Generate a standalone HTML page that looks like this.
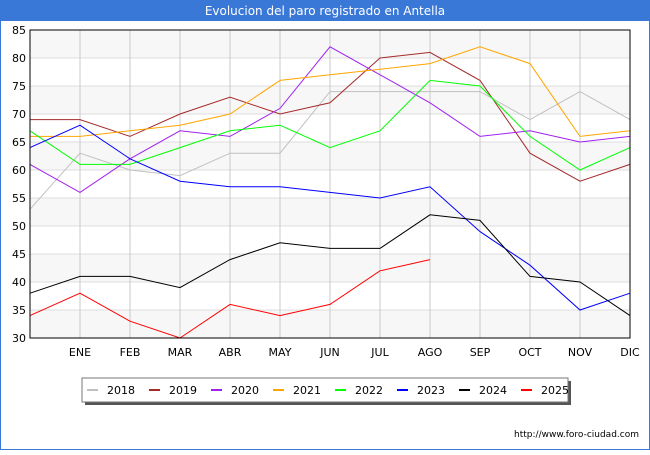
<!DOCTYPE html>
<html><head><meta charset="utf-8"><style>
body{margin:0;width:650px;height:450px;overflow:hidden;background:#fff;font-family:"Liberation Sans","DejaVu Sans",sans-serif}
</style></head><body>
<svg width="650" height="450" xmlns="http://www.w3.org/2000/svg" font-family="DejaVu Sans, Liberation Sans, sans-serif">
<rect x="0.5" y="0.5" width="649" height="449" fill="#fff" stroke="#3a78d8" stroke-width="1"/>
<rect x="0" y="0" width="650" height="21" fill="#3a78d8"/>
<text x="325" y="15" text-anchor="middle" fill="#fff" font-size="12">Evolucion del paro registrado en Antella</text>
<g id="plot"></g>
<g>
<rect x="85" y="381" width="486" height="24" fill="#555"/>
<rect x="82" y="378" width="486" height="24" fill="#fff" stroke="#777"/>
<g id="legend-items"></g>
</g>
<text x="639" y="437" text-anchor="end" font-size="9" fill="#000">http://www.foro-ciudad.com</text>
</svg>
<script>
const months = ["", "ENE","FEB","MAR","ABR","MAY","JUN","JUL","AGO","SEP","OCT","NOV","DIC"];
const yTicks = [30,35,40,45,50,55,60,65,70,75,80,85];
const years = ["2018","2019","2020","2021","2022","2023","2024","2025"];
const colors = ["#c0c0c0","#a52a2a","#a020f0","#ffa500","#00ff00","#0000ff","#000000","#ff0000"];
const s2018 = [53,63,60,59,63,63,74,74,74,74,69,74,69];
const s2019 = [69,69,66,70,73,70,72,80,81,76,63,58,61];
const s2020 = [61,56,62,67,66,71,82,77,72,66,67,65,66];
const s2021 = [66,66,67,68,70,76,77,78,79,82,79,66,67];
const s2022 = [67,61,61,64,67,68,64,67,76,75,66,60,64];
const s2023 = [64,68,62,58,57,57,56,55,57,49,43,35,38];
const s2024 = [38,41,41,39,44,47,46,46,52,51,41,40,34];
const s2025 = [34,38,33,30,36,34,36,42,44];
const series = [s2018,s2019,s2020,s2021,s2022,s2023,s2024,s2025];
const NS="http://www.w3.org/2000/svg";
const X0=30,X1=630,Y0=338,Y1=30,VMIN=30,VMAX=85;
const xs=i=>X0+i*(X1-X0)/(months.length-1);
const ys=v=>Y0-(v-VMIN)*(Y0-Y1)/(VMAX-VMIN);
const plot=document.getElementById('plot');
function mk(tag,attrs,parent){const e=document.createElementNS(NS,tag);for(const k in attrs)e.setAttribute(k,attrs[k]);(parent||plot).appendChild(e);return e;}
// bands
for(let i=0;i<yTicks.length-1;i++){
  if((yTicks.length-2-i)%2===0){
    const b=mk('rect',{x:X0,y:ys(yTicks[i+1]),width:X1-X0,height:ys(yTicks[i])-ys(yTicks[i+1]),fill:'#f7f7f7'});
    
    
  }
}
yTicks.forEach(v=>{
  const l=mk('line',{x1:X0,x2:X1,y1:ys(v),y2:ys(v),stroke:'#dddddd'});
  
  
  const t=mk('text',{x:X0-4,y:ys(v)+4,'text-anchor':'end','font-size':'11',fill:'#000'});
  t.textContent=v;
  
  
});
months.forEach((m,i)=>{
  if(i===0)return;
  const l=mk('line',{x1:xs(i),x2:xs(i),y1:Y1,y2:Y0,stroke:'#c8c8c8'});
  
  
  const t=mk('text',{x:xs(i),y:356,'text-anchor':'middle','font-size':'11',fill:'#000'});
  t.textContent=m;
  
  
});
series.forEach((s,k)=>{
  const p=mk('polyline',{points:s.map((v,i)=>xs(i)+','+ys(v)).join(' '),fill:'none',stroke:colors[k],'stroke-width':'1'});
  
  
});
const fr=mk('rect',{x:X0,y:Y1,width:X1-X0,height:Y0-Y1,fill:'none',stroke:'#000'});


const lg=document.getElementById('legend-items');
years.forEach((y,k)=>{
  const x=87+k*62;
  const sw=mk('rect',{x:x,y:389,width:11,height:2,fill:colors[k]},lg);
  
  
  const t=mk('text',{x:x+20,y:394,'font-size':'11',fill:'#000'},lg);
  t.textContent=y;
  
  
});
</script>
</body></html>
